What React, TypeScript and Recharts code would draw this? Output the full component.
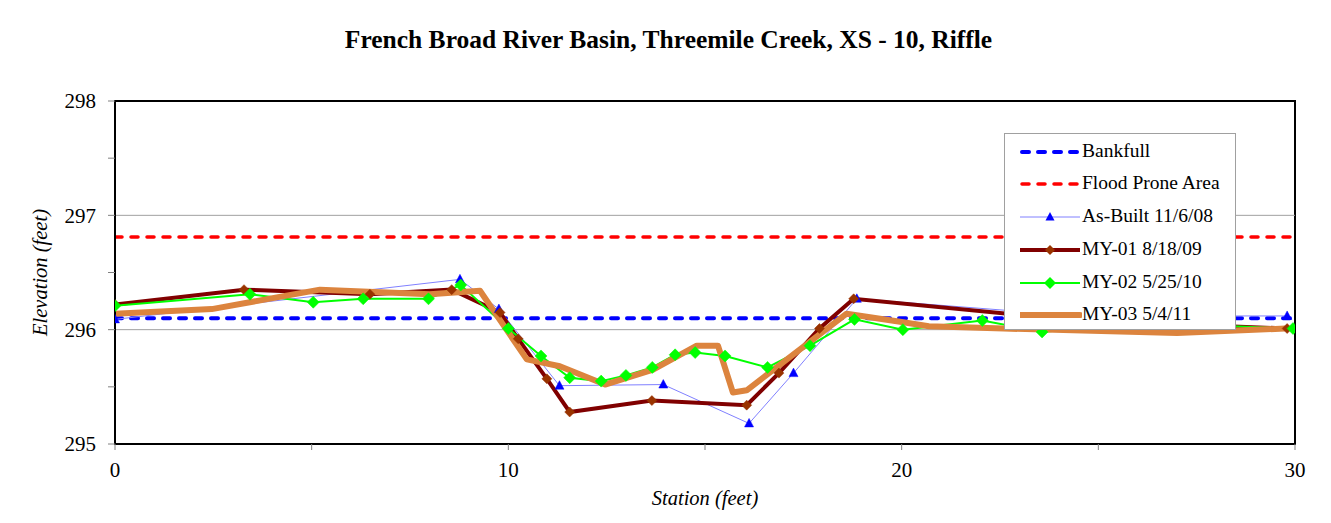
import React from 'react';
import { LineChart, Line, XAxis, YAxis, ReferenceLine, ReferenceArea, Legend, Label } from 'recharts';

const bankfull = [
  { x: 0, y: 296.1 },
  { x: 30, y: 296.1 },
];
const floodProne = [
  { x: 0, y: 296.81 },
  { x: 30, y: 296.81 },
];
const asBuilt = [
  { x: 0, y: 296.09 },
  { x: 8.77, y: 296.44 },
  { x: 9.76, y: 296.18 },
  { x: 11.3, y: 295.51 },
  { x: 13.94, y: 295.52 },
  { x: 16.12, y: 295.18 },
  { x: 17.25, y: 295.62 },
  { x: 18.86, y: 296.27 },
  { x: 24.5, y: 296.12 },
  { x: 29.8, y: 296.12 },
];
const my01 = [
  { x: 0, y: 296.22 },
  { x: 3.28, y: 296.35 },
  { x: 6.48, y: 296.31 },
  { x: 8.56, y: 296.35 },
  { x: 9.79, y: 296.15 },
  { x: 10.25, y: 295.92 },
  { x: 10.98, y: 295.57 },
  { x: 11.56, y: 295.28 },
  { x: 13.65, y: 295.38 },
  { x: 16.06, y: 295.34 },
  { x: 16.88, y: 295.62 },
  { x: 17.91, y: 296.01 },
  { x: 18.78, y: 296.27 },
  { x: 24.5, y: 296.08 },
  { x: 29.8, y: 296.01 },
];
const my02 = [
  { x: 0, y: 296.21 },
  { x: 3.43, y: 296.31 },
  { x: 5.04, y: 296.24 },
  { x: 6.31, y: 296.27 },
  { x: 7.97, y: 296.27 },
  { x: 8.79, y: 296.39 },
  { x: 10.0, y: 296.01 },
  { x: 10.83, y: 295.77 },
  { x: 11.56, y: 295.58 },
  { x: 12.36, y: 295.55 },
  { x: 12.99, y: 295.6 },
  { x: 13.66, y: 295.67 },
  { x: 14.24, y: 295.78 },
  { x: 14.75, y: 295.8 },
  { x: 15.51, y: 295.77 },
  { x: 16.59, y: 295.67 },
  { x: 17.67, y: 295.86 },
  { x: 18.8, y: 296.09 },
  { x: 20.03, y: 296.0 },
  { x: 22.05, y: 296.08 },
  { x: 23.57, y: 295.98 },
  { x: 26.0, y: 296.06 },
  { x: 29.95, y: 296.01 },
];
const my03 = [
  { x: 0, y: 296.14 },
  { x: 2.46, y: 296.18 },
  { x: 5.21, y: 296.35 },
  { x: 8.0, y: 296.31 },
  { x: 9.28, y: 296.34 },
  { x: 10.47, y: 295.74 },
  { x: 11.31, y: 295.68 },
  { x: 12.46, y: 295.52 },
  { x: 13.68, y: 295.65 },
  { x: 14.79, y: 295.86 },
  { x: 15.33, y: 295.86 },
  { x: 15.71, y: 295.45 },
  { x: 16.06, y: 295.47 },
  { x: 18.6, y: 296.14 },
  { x: 19.96, y: 296.07 },
  { x: 20.69, y: 296.03 },
  { x: 22.6, y: 296.01 },
  { x: 27.0, y: 295.97 },
  { x: 29.75, y: 296.01 },
];

const xTicks = [0, 5, 10, 15, 20, 25, 30];
const yTicks = [295, 295.5, 296, 296.5, 297, 297.5, 298];
const gridValues = [296, 297];

const seriesNames = ['Bankfull', 'Flood Prone Area', 'As-Built 11/6/08', 'MY-01 8/18/09', 'MY-02 5/25/10', 'MY-03 5/4/11'];

const FONT = '"Liberation Serif", "Times New Roman", serif';
const BLUE = '#0000FF';
const RED = '#FF0000';
const ASB_LINE = '#8080FF';
const MAROON = '#800000';
const BROWN = '#993300';
const GREEN = '#00FF00';
const ORANGE = '#DC843E';

const Triangle = (props: any) => {
  const { cx, cy } = props;
  if (cx == null || cy == null) return null;
  return <polygon points={`${cx},${cy - 5} ${cx - 4.5},${cy + 3.5} ${cx + 4.5},${cy + 3.5}`} fill={BLUE} stroke={BLUE} strokeWidth={0.5} />;
};

const makeDiamond = (half: number, color: string) => (props: any) => {
  const { cx, cy, index } = props;
  if (cx == null || cy == null) return <g key={index} />;
  return (
    <polygon
      key={index}
      points={`${cx},${cy - half} ${cx + half},${cy} ${cx},${cy + half} ${cx - half},${cy}`}
      fill={color}
      stroke={color}
      strokeWidth={0.5}
    />
  );
};

const BrownDiamond = makeDiamond(5, BROWN);
const GreenDiamond = makeDiamond(6, GREEN);

const LegendBox = () => {
  const rowH = 32.7;
  const sample = (i: number) => {
    const w = 60;
    const cy = 8;
    switch (i) {
      case 0:
        return <line x1={2} y1={cy} x2={w - 2} y2={cy} stroke={BLUE} strokeWidth={4} strokeDasharray="7 9" strokeLinecap="round" />;
      case 1:
        return <line x1={2} y1={cy} x2={w - 2} y2={cy} stroke={RED} strokeWidth={3.5} strokeDasharray="7 9" strokeLinecap="round" />;
      case 2:
        return (
          <g>
            <line x1={0} y1={cy} x2={w} y2={cy} stroke={ASB_LINE} strokeWidth={1} />
            <polygon points={`${w / 2},${cy - 5} ${w / 2 - 4.5},${cy + 3.5} ${w / 2 + 4.5},${cy + 3.5}`} fill={BLUE} />
          </g>
        );
      case 3:
        return (
          <g>
            <line x1={0} y1={cy} x2={w} y2={cy} stroke={MAROON} strokeWidth={4} />
            <polygon points={`${w / 2},${cy - 5} ${w / 2 + 5},${cy} ${w / 2},${cy + 5} ${w / 2 - 5},${cy}`} fill={BROWN} />
          </g>
        );
      case 4:
        return (
          <g>
            <line x1={0} y1={cy} x2={w} y2={cy} stroke={GREEN} strokeWidth={2} />
            <polygon points={`${w / 2},${cy - 6} ${w / 2 + 6},${cy} ${w / 2},${cy + 6} ${w / 2 - 6},${cy}`} fill={GREEN} />
          </g>
        );
      default:
        return <line x1={0} y1={cy} x2={w} y2={cy} stroke={ORANGE} strokeWidth={6} strokeLinecap="round" />;
    }
  };
  return (
    <div
      style={{
        width: 230,
        height: 195,
        border: '1px solid #A0A0A0',
        background: '#fff',
        position: 'relative',
        fontFamily: FONT,
        fontSize: 19.5,
        color: '#000',
      }}
    >
      {seriesNames.map((n, i) => (
        <div key={n} style={{ position: 'absolute', left: 0, top: 17.7 + i * rowH - 13, height: 24, width: 230 }}>
          <svg width={62} height={16} style={{ position: 'absolute', left: 15, top: 5 }}>
            {sample(i)}
          </svg>
          <span style={{ position: 'absolute', left: 77, top: 0, lineHeight: '24px', whiteSpace: 'nowrap' }}>{n}</span>
        </div>
      ))}
    </div>
  );
};

export default function App() {
  const tickStyle = { fontFamily: FONT, fontSize: 21, fill: '#000' };
  return (
    <div style={{ margin: -8, width: 1331, height: 523, position: 'relative', overflow: 'hidden', background: '#fff', fontFamily: FONT }}>
      <div style={{ position: 'absolute', left: 4, top: 1, width: 1400, height: 600, borderLeft: '1px solid #A8A8A8', borderTop: '1px solid #A8A8A8' }} />
      <div
        style={{
          position: 'absolute',
          left: 0,
          width: 1331,
          top: 24,
          textAlign: 'center',
          fontWeight: 'bold',
          fontSize: 25.5,
          lineHeight: '32px',
          paddingLeft: 6,
          boxSizing: 'border-box',
        }}
      >
        French Broad River Basin, Threemile Creek, XS - 10, Riffle
      </div>
      <div style={{ position: 'absolute', left: 0, top: 0 }}>
        <LineChart width={1331} height={523} margin={{ top: 101, right: 36, bottom: 49, left: 55 }}>
          <XAxis
            dataKey="x"
            type="number"
            domain={[0, 30]}
            ticks={xTicks}
            interval={0}
            allowDataOverflow
            height={30}
            tick={tickStyle}
            tickFormatter={(v: number) => (v % 10 === 0 ? String(v) : '')}
            tickSize={6}
            tickMargin={12}
            axisLine={{ stroke: '#000', strokeWidth: 2 }}
            tickLine={{ stroke: '#808080' }}
          >
            <Label value="Station (feet)" position="bottom" offset={16} style={{ fontFamily: FONT, fontSize: 20.5, fontStyle: 'italic', fill: '#000' }} />
          </XAxis>
          <YAxis
            type="number"
            domain={[295, 298]}
            ticks={yTicks}
            interval={0}
            allowDataOverflow
            width={60}
            tick={tickStyle}
            tickFormatter={(v: number) => (Number.isInteger(v) ? String(v) : '')}
            tickSize={7}
            tickMargin={12}
            axisLine={{ stroke: '#000', strokeWidth: 2 }}
            tickLine={{ stroke: '#808080' }}
          >
            <Label
              value="Elevation (feet)"
              position="insideLeft"
              angle={-90}
              offset={-15}
              style={{ fontFamily: FONT, fontSize: 20.5, fontStyle: 'italic', fill: '#000', textAnchor: 'middle' }}
            />
          </YAxis>
          {gridValues.map((g) => (
            <ReferenceLine key={g} y={g} stroke="#A0A0A0" strokeWidth={1} />
          ))}
          <ReferenceArea x1={0} x2={30} y1={295} y2={298} fill="none" stroke="#000" strokeWidth={2} fillOpacity={0} />
          <Line data={bankfull} dataKey="y" name={seriesNames[0]} stroke={BLUE} strokeWidth={4} strokeDasharray="7 9" strokeLinecap="round" dot={false} activeDot={false} isAnimationActive={false} />
          <Line data={floodProne} dataKey="y" name={seriesNames[1]} stroke={RED} strokeWidth={3.5} strokeDasharray="7 9" strokeLinecap="round" dot={false} activeDot={false} isAnimationActive={false} />
          <Line
            data={asBuilt}
            dataKey="y"
            name={seriesNames[2]}
            stroke={ASB_LINE}
            strokeWidth={1}
            dot={(p: any) => <Triangle key={p.index} {...p} />}
            activeDot={false}
            isAnimationActive={false}
          />
          <Line data={my01} dataKey="y" name={seriesNames[3]} stroke={MAROON} strokeWidth={4} dot={BrownDiamond} activeDot={false} isAnimationActive={false} />
          <Line data={my02} dataKey="y" name={seriesNames[4]} stroke={GREEN} strokeWidth={2} dot={GreenDiamond} activeDot={false} isAnimationActive={false} />
          <Line data={my03} dataKey="y" name={seriesNames[5]} stroke={ORANGE} strokeWidth={6} strokeLinejoin="round" dot={false} activeDot={false} isAnimationActive={false} />
          <Legend
            layout="horizontal"
            verticalAlign="middle"
            align="center"
            content={() => <LegendBox />}
            wrapperStyle={{ position: 'absolute', left: 1004, top: 133, width: 232, height: 197 }}
          />
        </LineChart>
      </div>
    </div>
  );
}
